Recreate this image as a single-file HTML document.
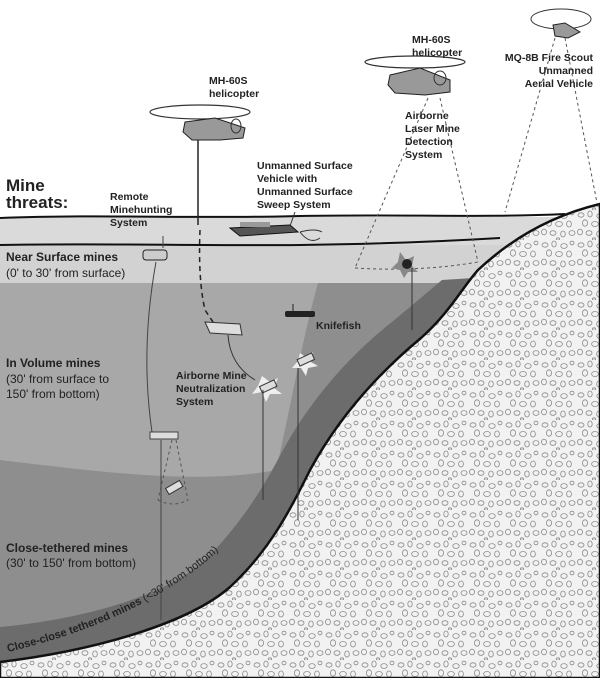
<!DOCTYPE html>
<html><head><meta charset="utf-8"><style>
html,body{margin:0;padding:0;background:#fff;}
svg{display:block;font-family:"Liberation Sans",Arial,sans-serif;}
.b{font-weight:bold;fill:#222;}
</style></head><body>
<svg width="600" height="678" viewBox="0 0 600 678" xmlns="http://www.w3.org/2000/svg">
<defs>
<pattern id="rock" width="36" height="30" patternUnits="userSpaceOnUse">
<rect width="36" height="30" fill="#f2f2f2"/>
<g fill="none" stroke="#8a8a8a" stroke-width="0.8">
<ellipse cx="5" cy="5" rx="3" ry="2.2"/>
<ellipse cx="14" cy="4" rx="2.2" ry="3"/>
<ellipse cx="24" cy="6" rx="3.2" ry="2.4"/>
<ellipse cx="32" cy="3" rx="2" ry="1.8"/>
<ellipse cx="9" cy="13" rx="2.6" ry="3.2"/>
<ellipse cx="19" cy="14" rx="3.4" ry="2.5"/>
<ellipse cx="29" cy="14" rx="2.4" ry="3"/>
<ellipse cx="4" cy="22" rx="2.5" ry="2.8"/>
<ellipse cx="13" cy="23" rx="3" ry="2.3"/>
<ellipse cx="23" cy="24" rx="2.3" ry="3"/>
<ellipse cx="32" cy="23" rx="3" ry="2.4"/>
<ellipse cx="18" cy="29" rx="1.6" ry="1.2"/>
</g>
</pattern>
<path id="ccp" d="M8,652 C90,632 175,600 245,525"/>
</defs>

<rect x="0" y="217" width="600" height="28" fill="#dadada"/>
<rect x="0" y="245" width="600" height="38" fill="#d2d2d2"/>
<rect x="0" y="283" width="600" height="395" fill="#8e8e8e"/>
<path d="M0,283 L318,283 C302,340 288,420 276,470 C200,485 100,472 0,460 Z" fill="#a8a8a8"/>
<path d="M0,627 C95,618 170,592 205,560 C240,525 262,490 282,452 C310,400 350,355 392,322 C415,303 430,290 442,280 L600,270 L600,678 L0,678 Z" fill="#6c6c6c"/>
<path d="M0,662 C100,650 190,622 230,587 C270,550 290,510 310,470 C340,415 380,372 421,338 C450,312 462,288 478,270 C510,240 550,216 600,204 L600,678 L0,678 Z" fill="url(#rock)" stroke="#111" stroke-width="2.5"/>
<path d="M0,218 C100,214 200,219 300,216 C400,214 480,218 565,214" fill="none" stroke="#111" stroke-width="2"/>
<path d="M0,245 C100,243 200,246 300,245 C380,244 450,241 500,238" fill="none" stroke="#111" stroke-width="2"/>

<g fill="none" stroke="#555" stroke-width="1" stroke-dasharray="3,3">
<path d="M428,98 L355,268 M440,98 L478,262"/>
<path d="M355,268 Q420,272 478,262"/>
<path d="M555,38 L505,212 M565,38 L597,203"/>
<path d="M172,440 L158,500 M176,440 L188,500 M158,500 Q173,508 188,500"/>
</g>

<ellipse cx="200" cy="112" rx="50" ry="7" fill="none" stroke="#333" stroke-width="1.2"/>
<path d="M185,122 L215,118 L245,128 L243,138 L220,140 L192,140 L183,132 Z" fill="#999" stroke="#222"/>
<ellipse cx="236" cy="126" rx="5" ry="7" fill="none" stroke="#333"/>
<line x1="198" y1="140" x2="198" y2="225" stroke="#222" stroke-width="1.5"/>
<path d="M200,230 Q198,280 205,310 L215,325" fill="none" stroke="#222" stroke-width="1.5" stroke-dasharray="5,4"/>

<ellipse cx="415" cy="62" rx="50" ry="6" fill="none" stroke="#333" stroke-width="1.2"/>
<path d="M390,75 L420,68 L450,80 L450,92 L425,95 L395,93 L388,85 Z" fill="#999" stroke="#222"/>
<ellipse cx="440" cy="78" rx="6" ry="7" fill="none" stroke="#333"/>

<ellipse cx="561" cy="19" rx="30" ry="10" fill="none" stroke="#333"/>
<path d="M553,25 L565,23 L580,32 L568,38 L555,36 Z" fill="#999" stroke="#222"/>

<path d="M230,228 L290,225 L298,232 L240,236 Z" fill="#555" stroke="#111"/>
<rect x="240" y="222" width="30" height="5" fill="#999"/>
<path d="M290,226 L295,212 M300,232 Q310,245 320,238 M300,232 Q315,228 322,232" stroke="#333" fill="none"/>

<rect x="143" y="250" width="24" height="10" rx="3" fill="#ccc" stroke="#222"/>
<path d="M163,248 L163,236" stroke="#444"/>
<path d="M156,262 Q140,350 152,432" fill="none" stroke="#444"/>
<rect x="150" y="432" width="28" height="7" fill="#ddd" stroke="#444"/>
<line x1="161" y1="440" x2="161" y2="620" stroke="#444"/>

<path d="M205,322 L240,324 L242,335 L210,333 Z" fill="#ddd" stroke="#333"/>
<path d="M228,335 Q230,365 255,380" fill="none" stroke="#333"/>
<polygon points="262,376 270,382 278,378 274,388 282,394 270,394 266,402 262,392 252,394 258,386" fill="#eee"/>
<rect x="260" y="383" width="16" height="7" fill="#ddd" stroke="#333" transform="rotate(-25 268 386)"/>
<line x1="263" y1="390" x2="263" y2="500" stroke="#333"/>
<polygon points="300,353 307,358 313,352 311,362 318,366 308,368 306,376 301,368 292,368 298,361" fill="#eee"/>
<rect x="298" y="356" width="16" height="7" fill="#ddd" stroke="#333" transform="rotate(-25 306 360)"/>
<line x1="298" y1="368" x2="298" y2="520" stroke="#333"/>
<rect x="166" y="484" width="16" height="7" fill="#ddd" stroke="#333" transform="rotate(-30 174 487)"/>

<rect x="285" y="311" width="30" height="6" rx="2" fill="#222"/>
<line x1="293" y1="311" x2="293" y2="304" stroke="#222"/>

<polygon points="400,252 406,260 414,256 412,266 418,272 408,272 404,278 400,270 392,268 398,262" fill="#888"/>
<circle cx="407" cy="264" r="5" fill="#222"/>
<line x1="412" y1="268" x2="412" y2="330" stroke="#333"/>

<text x="6" y="191" class="b" font-size="17">Mine</text>
<text x="6" y="208" class="b" font-size="17">threats:</text>
<g class="b" font-size="10.5">
<text x="110" y="200">Remote</text>
<text x="110" y="213">Minehunting</text>
<text x="110" y="226">System</text>
<text x="209" y="84">MH-60S</text>
<text x="209" y="97">helicopter</text>
<text x="412" y="43">MH-60S</text>
<text x="412" y="56">helicopter</text>
<text x="593" y="61" text-anchor="end">MQ-8B Fire Scout</text>
<text x="593" y="74" text-anchor="end">Unmanned</text>
<text x="593" y="87" text-anchor="end">Aerial Vehicle</text>
<text x="405" y="119">Airborne</text>
<text x="405" y="132">Laser Mine</text>
<text x="405" y="145">Detection</text>
<text x="405" y="158">System</text>
<text x="257" y="169">Unmanned Surface</text>
<text x="257" y="182">Vehicle with</text>
<text x="257" y="195">Unmanned Surface</text>
<text x="257" y="208">Sweep System</text>
<text x="176" y="379">Airborne Mine</text>
<text x="176" y="392">Neutralization</text>
<text x="176" y="405">System</text>
<text x="316" y="329">Knifefish</text>
</g>
<g font-size="12" fill="#222">
<text x="6" y="261" class="b">Near Surface mines</text>
<text x="6" y="277">(0' to 30' from surface)</text>
<text x="6" y="367" class="b">In Volume mines</text>
<text x="6" y="383">(30' from surface to</text>
<text x="6" y="398">150' from bottom)</text>
<text x="6" y="552" class="b">Close-tethered mines</text>
<text x="6" y="567">(30' to 150' from bottom)</text>
</g>
<text font-size="11" fill="#222"><textPath href="#ccp"><tspan font-weight="bold">Close-close tethered mines</tspan> (&lt;30' from bottom)</textPath></text>
</svg>
</body></html>
